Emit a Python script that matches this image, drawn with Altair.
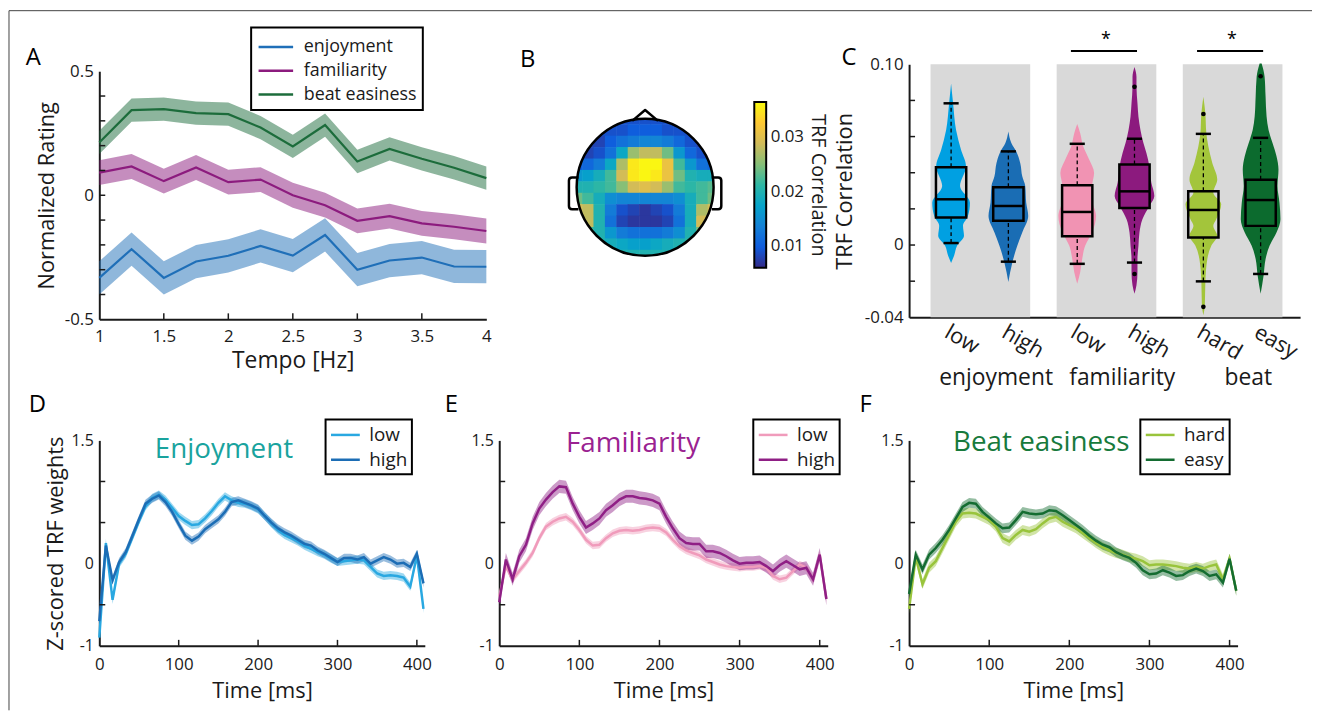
import altair as alt
import pandas as pd

FONT = "Open Sans"
INK = "#1a1a1a"

# ------------------------------------------------------------------ panel A data
tempo_hz = [1.0, 1.25, 1.5, 1.75, 2.0, 2.25, 2.5, 2.75, 3.0, 3.25, 3.5, 3.75, 4.0]
rating_enjoyment = [-0.333, -0.217, -0.333, -0.267, -0.244, -0.204, -0.243, -0.160, -0.300, -0.263, -0.251, -0.287, -0.288]
rating_familiarity = [0.091, 0.116, 0.057, 0.112, 0.053, 0.063, 0.000, -0.040, -0.103, -0.084, -0.113, -0.127, -0.144]
rating_beat = [0.213, 0.343, 0.347, 0.331, 0.327, 0.273, 0.197, 0.283, 0.136, 0.187, 0.147, 0.111, 0.069]
rating_sem = [0.067, 0.050, 0.047]
rating_names = ["enjoyment", "familiarity", "beat easiness"]
rating_colors = ["#1f6fb8", "#8c1b7e", "#1c6c3b"]
tempo_ticks = [1, 1.5, 2, 2.5, 3, 3.5, 4]
rating_ticks = [-0.4, -0.3, -0.2, -0.1, 0, 0.1, 0.2, 0.3, 0.4]

# ------------------------------------------------------------------ panel B data
topo_u = [-1.0, -0.833, -0.667, -0.5, -0.333, -0.167, 0.0, 0.167, 0.333, 0.5, 0.667, 0.833, 1.0]
topo_v = [1.0, 0.833, 0.667, 0.5, 0.333, 0.167, 0.0, -0.167, -0.333, -0.5, -0.667, -0.833, -1.0]
topo_values = [
    [0.009, 0.009, 0.009, 0.009, 0.009, 0.009, 0.009, 0.009, 0.009, 0.009, 0.009, 0.009, 0.009],
    [0.009, 0.009, 0.009, 0.009, 0.009, 0.010, 0.010, 0.010, 0.009, 0.009, 0.009, 0.009, 0.009],
    [0.008, 0.008, 0.008, 0.010, 0.012, 0.013, 0.014, 0.014, 0.013, 0.011, 0.009, 0.008, 0.008],
    [0.008, 0.008, 0.009, 0.012, 0.018, 0.026, 0.028, 0.028, 0.024, 0.016, 0.011, 0.009, 0.009],
    [0.010, 0.011, 0.013, 0.018, 0.027, 0.035, 0.036, 0.036, 0.031, 0.022, 0.016, 0.012, 0.011],
    [0.016, 0.017, 0.019, 0.022, 0.029, 0.035, 0.036, 0.035, 0.031, 0.024, 0.020, 0.019, 0.019],
    [0.020, 0.020, 0.021, 0.022, 0.025, 0.029, 0.030, 0.029, 0.026, 0.022, 0.021, 0.022, 0.023],
    [0.024, 0.022, 0.019, 0.015, 0.014, 0.014, 0.014, 0.014, 0.014, 0.015, 0.019, 0.022, 0.024],
    [0.029, 0.028, 0.020, 0.013, 0.009, 0.008, 0.007, 0.008, 0.009, 0.013, 0.019, 0.027, 0.029],
    [0.029, 0.028, 0.020, 0.012, 0.008, 0.007, 0.007, 0.007, 0.008, 0.012, 0.019, 0.029, 0.030],
    [0.024, 0.022, 0.020, 0.016, 0.013, 0.012, 0.012, 0.012, 0.013, 0.015, 0.020, 0.024, 0.025],
    [0.020, 0.020, 0.020, 0.019, 0.018, 0.017, 0.017, 0.018, 0.019, 0.020, 0.021, 0.021, 0.021],
    [0.020, 0.020, 0.020, 0.020, 0.020, 0.020, 0.020, 0.020, 0.020, 0.020, 0.020, 0.020, 0.020],
]
cbar_limits = [0.006, 0.0364]
cbar_ticks = [0.01, 0.02, 0.03]
parula = ["#352a87", "#0f5cdd", "#1481d6", "#06a4ca", "#2eb7a4",
          "#87bf77", "#d1bb59", "#fec832", "#f9fb0e"]

# ------------------------------------------------------------------ panel C data
group_names = ["enjoyment", "familiarity", "beat"]
cond_names = ["low", "high", "low", "high", "hard", "easy"]
violin_colors = ["#00a0e2", "#1a6db4", "#f193b3", "#8c1a7e", "#a3c53b", "#0c6b2e"]
vio_enj_low = [[0.0894, 0], [0.0784, 2], [0.0637, 5], [0.0527, 10], [0.0436, 15], [0.0326, 9],
               [0.0234, 19], [0.0160, 17], [0.0106, 12], [0.0051, 13], [-0.0004, 6],
               [-0.0059, 3], [-0.0099, 0]]
vio_enj_high = [[0.0628, 0], [0.0565, 3], [0.0517, 8], [0.0453, 12], [0.0380, 14], [0.0326, 17],
                [0.0234, 18], [0.0160, 20], [0.0069, 14], [-0.0004, 9], [-0.0096, 4], [-0.0205, 0]]
vio_fam_low = [[0.0670, 0], [0.0619, 3], [0.0546, 6], [0.0473, 12], [0.0399, 17], [0.0326, 15],
               [0.0253, 15], [0.0160, 19], [0.0069, 15], [-0.0004, 8], [-0.0077, 5],
               [-0.0150, 3], [-0.0214, 0]]
vio_fam_high = [[0.0985, 0], [0.0930, 2], [0.0875, 2], [0.0784, 3], [0.0710, 4], [0.0637, 6],
                [0.0564, 9], [0.0509, 12], [0.0436, 15], [0.0344, 17], [0.0271, 20],
                [0.0216, 15], [0.0143, 8], [0.0069, 5], [-0.0004, 4], [-0.0077, 3],
                [-0.0150, 3], [-0.0223, 2], [-0.0270, 0]]
vio_beat_hard = [[0.0820, 0], [0.0729, 2], [0.0619, 3], [0.0546, 5], [0.0454, 9], [0.0363, 14],
                 [0.0290, 10], [0.0225, 18], [0.0143, 13], [0.0106, 10], [0.0051, 14],
                 [-0.0004, 8], [-0.0077, 4], [-0.0205, 2], [-0.0333, 1.5], [-0.0388, 0]]
vio_beat_easy = [[0.1004, 1], [0.0931, 4], [0.0822, 5], [0.0711, 6], [0.0637, 8], [0.0564, 12],
                 [0.0491, 16], [0.0418, 18], [0.0326, 17], [0.0234, 19], [0.0143, 20],
                 [0.0069, 16], [-0.0004, 9], [-0.0077, 5], [-0.0169, 3], [-0.0270, 0]]
box_q1 = [0.0152, 0.0134, 0.0048, 0.0205, 0.0042, 0.0106]
box_med = [0.0253, 0.0216, 0.0183, 0.0297, 0.0194, 0.0249]
box_q3 = [0.0430, 0.0320, 0.0331, 0.0445, 0.0298, 0.0361]
whisk_lo = [0.0011, -0.0092, -0.0104, -0.0097, -0.0201, -0.0160]
whisk_hi = [0.0784, 0.0518, 0.0560, 0.0588, 0.0615, 0.0593]
outlier_idx = [3, 3, 4, 4, 5]
outlier_val = [0.0875, -0.0160, 0.0725, -0.0342, 0.0934]
sig_pairs = [[2, 3], [4, 5]]
sig_level = 0.1073
corr_ticks = [-0.02, 0, 0.02, 0.04, 0.06, 0.08]

# ------------------------------------------------------------------ panels D-F data
time_ms = [0, 8.3, 16.7, 25, 33.3, 41.7, 50, 58.3, 66.7, 75, 83.3, 91.7, 100, 108.3, 116.7,
           125, 133.3, 141.7, 150, 158.3, 166.7, 175, 183.3, 191.7, 200, 208.3, 216.7, 225,
           233.3, 241.7, 250, 258.3, 266.7, 275, 283.3, 291.7, 300, 308.3, 316.7, 325, 333.3,
           341.7, 350, 358.3, 366.7, 375, 383.3, 391.7, 400, 408.3]
enj_low = [-0.90, 0.25, -0.44, 0.00, 0.12, 0.32, 0.52, 0.70, 0.80, 0.84, 0.78, 0.68, 0.58, 0.52,
           0.47, 0.48, 0.55, 0.64, 0.74, 0.82, 0.77, 0.74, 0.73, 0.70, 0.66, 0.58, 0.49, 0.41,
           0.35, 0.31, 0.27, 0.22, 0.18, 0.14, 0.11, 0.06, 0.02, 0.03, 0.04, 0.05, 0.04, -0.04,
           -0.12, -0.15, -0.14, -0.15, -0.17, -0.28, 0.10, -0.55]
enj_high = [-0.70, 0.22, -0.20, 0.02, 0.14, 0.34, 0.54, 0.73, 0.79, 0.83, 0.75, 0.63, 0.48, 0.34,
            0.28, 0.33, 0.42, 0.48, 0.54, 0.63, 0.75, 0.77, 0.74, 0.71, 0.67, 0.58, 0.50, 0.43,
            0.38, 0.34, 0.29, 0.24, 0.22, 0.16, 0.12, 0.07, 0.02, 0.07, 0.07, 0.05, 0.08, 0.00,
            0.04, 0.08, 0.05, 0.00, 0.01, -0.04, 0.12, -0.24]
fam_low = [-0.40, -0.03, -0.19, -0.09, 0.01, 0.13, 0.31, 0.45, 0.51, 0.55, 0.57, 0.51, 0.41, 0.29,
           0.22, 0.23, 0.31, 0.37, 0.40, 0.41, 0.40, 0.41, 0.43, 0.44, 0.43, 0.38, 0.29, 0.21,
           0.16, 0.13, 0.10, 0.05, 0.02, -0.01, -0.03, -0.04, -0.05, -0.04, -0.04, -0.03, -0.05,
           -0.15, -0.19, -0.17, -0.09, -0.01, -0.05, -0.19, 0.11, -0.43]
fam_high = [-0.47, 0.05, -0.19, 0.09, 0.23, 0.49, 0.67, 0.78, 0.87, 0.94, 0.93, 0.73, 0.57, 0.44,
            0.49, 0.55, 0.65, 0.71, 0.78, 0.82, 0.82, 0.80, 0.79, 0.77, 0.73, 0.57, 0.43, 0.31,
            0.25, 0.24, 0.24, 0.15, 0.15, 0.13, 0.09, 0.04, 0.00, 0.01, 0.01, 0.02, -0.03, -0.09,
            -0.02, 0.03, -0.02, -0.07, -0.05, -0.19, 0.11, -0.43]
beat_hard = [-0.55, 0.08, -0.25, -0.05, 0.03, 0.19, 0.35, 0.51, 0.61, 0.62, 0.61, 0.57, 0.53, 0.45,
             0.31, 0.27, 0.35, 0.41, 0.39, 0.42, 0.49, 0.55, 0.57, 0.51, 0.47, 0.43, 0.37, 0.31,
             0.25, 0.20, 0.16, 0.13, 0.11, 0.08, 0.06, 0.03, -0.02, -0.01, -0.01, -0.02, -0.03,
             -0.05, -0.06, -0.04, -0.06, -0.03, -0.01, -0.19, 0.06, -0.33]
beat_easy = [-0.37, 0.11, -0.07, 0.11, 0.19, 0.29, 0.41, 0.55, 0.69, 0.74, 0.73, 0.63, 0.56, 0.49,
             0.43, 0.44, 0.53, 0.63, 0.61, 0.60, 0.61, 0.65, 0.64, 0.59, 0.53, 0.47, 0.41, 0.34,
             0.28, 0.23, 0.20, 0.14, 0.10, 0.07, 0.01, -0.08, -0.13, -0.12, -0.08, -0.11, -0.15,
             -0.14, -0.09, -0.06, -0.09, -0.15, -0.13, -0.23, 0.06, -0.33]
trf_sem = {"enj": [0.05, 0.05], "fam": [0.045, 0.08], "beat": [0.06, 0.06]}
time_ticks = [0, 100, 200, 300, 400]
trf_ticks = [-0.5, 0.5, 1.0]

TICK = 6  # inward tick length in px
LEG_LINE = "M-1,0 L1.9,0"  # long horizontal legend line (extends to the right of its cell)


# ------------------------------------------------------------------ helpers
def yticks(values, ys):
    return alt.Chart(pd.DataFrame({"v": values})).mark_rule(color=INK, strokeWidth=1.5).encode(
        y=alt.Y("v:Q", scale=ys, axis=None), x=alt.value(0), x2=alt.value(TICK))


def xticks(values, xs, h):
    return alt.Chart(pd.DataFrame({"v": values})).mark_rule(color=INK, strokeWidth=1.5).encode(
        x=alt.X("v:Q", scale=xs, axis=None), y=alt.value(h), y2=alt.value(h - TICK))


def panel_letter(text, px, py):
    return alt.Chart(pd.DataFrame({"t": [text]})).mark_text(
        fontSize=24, font=FONT, color="black", align="left", baseline="alphabetic").encode(
        x=alt.value(px), y=alt.value(py), text="t:N")


# ------------------------------------------------------------------ panel A
A_W, A_H, A_TOP = 390, 257, 7
XA = alt.Scale(domain=[1, 4], nice=False, zero=False)
YA = alt.Scale(domain=[-0.5, 0.5], range=[A_H, A_TOP], nice=False, zero=False)
rowsA = []
for name, col, vals, sem in zip(rating_names, rating_colors,
                                [rating_enjoyment, rating_familiarity, rating_beat], rating_sem):
    for t, v in zip(tempo_hz, vals):
        rowsA.append({"tempo": t, "series": name, "band": col, "mean": v, "lo": v - sem, "hi": v + sem})
dfA = pd.DataFrame(rowsA)
colA = alt.Scale(domain=rating_names, range=rating_colors)

bandA = alt.Chart(dfA).mark_area(opacity=0.5).encode(
    x=alt.X("tempo:Q", scale=XA, axis=None),
    y=alt.Y("lo:Q", scale=YA, axis=None, stack=None),
    y2="hi:Q",
    fill=alt.Fill("band:N", scale=None),
)
lineA = alt.Chart(dfA).mark_line(strokeWidth=2.2).encode(
    x=alt.X("tempo:Q", scale=XA, axis=alt.Axis(
        values=tempo_ticks, labelExpr="toString(datum.value)", ticks=False, title="Tempo [Hz]",
        labelFontSize=17, titleFontSize=23, labelPadding=9, titlePadding=6)),
    y=alt.Y("mean:Q", scale=YA, axis=alt.Axis(
        values=[-0.5, 0, 0.5],
        labelExpr="datum.value > 0.1 ? '0.5' : (datum.value < -0.1 ? '-0.5' : '0')",
        ticks=False, title="Normalized Rating", labelFontSize=17, titleFontSize=22,
        labelPadding=6, titlePadding=6)),
    color=alt.Color("series:N", scale=colA, legend=alt.Legend(
        orient="none", legendX=153, legendY=-37, title=None, labelFontSize=18,
        symbolType=LEG_LINE, symbolSize=576, symbolStrokeWidth=2.5, rowPadding=1, padding=6,
        labelOffset=20, symbolOpacity=1)),
)
frame_df = pd.DataFrame({"k": [0]})
frame_left = alt.Chart(frame_df).mark_rule(color="#444444", strokeWidth=1).encode(
    x=alt.value(-91), y=alt.value(-54), y2=alt.value(651))
frame_top = alt.Chart(frame_df).mark_rule(color="#444444", strokeWidth=1).encode(
    x=alt.value(-91), x2=alt.value(1222), y=alt.value(-54))
panelA = alt.layer(
    frame_left, frame_top, bandA, lineA,
    yticks(rating_ticks, YA), xticks(tempo_ticks[1:-1], XA, A_H),
    panel_letter("A", -74, 1),
).resolve_axis(x="independent", y="independent").properties(width=A_W, height=A_H)

# ------------------------------------------------------------------ panel B
B_W, B_H = 400, 257
HEAD_CX, HEAD_CY, HEAD_R = 147, 124, 69
XB = alt.Scale(domain=[-1, 1], range=[HEAD_CX - HEAD_R, HEAD_CX + HEAD_R], nice=False, zero=False)
YB = alt.Scale(domain=[-1, 1], range=[HEAD_CY + HEAD_R, HEAD_CY - HEAD_R], nice=False, zero=False)
half = 1 / 12 + 0.004
rowsB = []
for i, v in enumerate(topo_v):
    for j, u in enumerate(topo_u):
        rowsB.append({"u0": u - half, "u1": u + half, "v0": v - half, "v1": v + half,
                      "r": topo_values[i][j]})
dfB = pd.DataFrame(rowsB)
span = cbar_limits[1] - cbar_limits[0]
parula_domain = [cbar_limits[0] + k * span / (len(parula) - 1) for k in range(len(parula))]

cells = alt.Chart(dfB).mark_rect().encode(
    x=alt.X("u0:Q", scale=XB, axis=None), x2="u1:Q",
    y=alt.Y("v0:Q", scale=YB, axis=None), y2="v1:Q",
    color=alt.Color("r:Q", scale=alt.Scale(domain=parula_domain, range=parula, interpolate="rgb"),
                    legend=None),
)
centre = pd.DataFrame({"u": [0.0], "v": [0.0]})
RING_W = 46
ring = alt.Chart(centre).mark_point(shape="circle", filled=False, stroke="white", strokeWidth=RING_W,
                                    size=(2 * (HEAD_R + RING_W / 2)) ** 2, opacity=1).encode(
    x=alt.X("u:Q", scale=XB, axis=None), y=alt.Y("v:Q", scale=YB, axis=None))
outline = alt.Chart(centre).mark_point(shape="circle", filled=False, stroke="black", strokeWidth=2.5,
                                       size=(2 * HEAD_R) ** 2, opacity=1).encode(
    x=alt.X("u:Q", scale=XB, axis=None), y=alt.Y("v:Q", scale=YB, axis=None))
nose_df = pd.DataFrame({"u": [0.0], "v": [1.05]})
nose = alt.Chart(nose_df).mark_point(shape="M-1,0.42 L0,-0.42 L1,0.42", filled=False, stroke="black",
                                     strokeWidth=2.5, size=676, opacity=1, strokeJoin="round").encode(
    x=alt.X("u:Q", scale=XB, axis=None), y=alt.Y("v:Q", scale=YB, axis=None))
ear_l_df = pd.DataFrame({"u": [-1.043], "v": [-0.087]})
ear_r_df = pd.DataFrame({"u": [1.043], "v": [-0.087]})
ear_l = alt.Chart(ear_l_df).mark_point(
    shape="M0.3,-1 L-0.1,-1 Q-0.3,-1 -0.3,-0.8 L-0.3,0.8 Q-0.3,1 -0.1,1 L0.3,1",
    filled=False, stroke="black", strokeWidth=2.5, size=1024, opacity=1).encode(
    x=alt.X("u:Q", scale=XB, axis=None), y=alt.Y("v:Q", scale=YB, axis=None))
ear_r = alt.Chart(ear_r_df).mark_point(
    shape="M-0.3,-1 L0.1,-1 Q0.3,-1 0.3,-0.8 L0.3,0.8 Q0.3,1 0.1,1 L-0.3,1",
    filled=False, stroke="black", strokeWidth=2.5, size=1024, opacity=1).encode(
    x=alt.X("u:Q", scale=XB, axis=None), y=alt.Y("v:Q", scale=YB, axis=None))
scalp = alt.layer(cells, ring, outline, nose, ear_l, ear_r, panel_letter("B", 21, 3))

XCB = alt.Scale(domain=[0, 1], range=[257, 269], nice=False, zero=False)
YCB = alt.Scale(domain=cbar_limits, range=[205, 38], nice=False, zero=False)
cbdf = pd.DataFrame({"c0": [0.0], "c1": [1.0], "z0": [cbar_limits[0]], "z1": [cbar_limits[1]]})
grad = alt.Gradient(gradient="linear",
                    stops=[alt.GradientStop(color=c, offset=k / (len(parula) - 1)) for k, c in enumerate(parula)],
                    x1=0, x2=0, y1=1, y2=0)
cb_fill = alt.Chart(cbdf).mark_rect(color=grad).encode(
    x=alt.X("c0:Q", scale=XCB, axis=None), x2="c1:Q",
    y=alt.Y("z0:Q", scale=YCB, axis=alt.Axis(
        orient="right", offset=-(B_W - 269), values=cbar_ticks, format=".2f", ticks=False,
        domain=False, labelFontSize=17, labelPadding=4, title="TRF Correlation",
        titleFontSize=20, titlePadding=4)),
    y2="z1:Q")
cb_frame = alt.Chart(cbdf).mark_rect(fill="transparent", stroke="black", strokeWidth=2).encode(
    x=alt.X("c0:Q", scale=XCB, axis=None), x2="c1:Q",
    y=alt.Y("z0:Q", scale=YCB, axis=None), y2="z1:Q")
cbar = alt.layer(cb_fill, cb_frame).resolve_axis(x="independent", y="independent")
panelB = alt.layer(scalp, cbar).resolve_scale(x="independent", y="independent").properties(
    width=B_W, height=B_H)

# ------------------------------------------------------------------ panel C
C_W, C_H = 394, 255
XC = alt.Scale(domain=[-0.56, 2.54], nice=False, zero=False)
YC = alt.Scale(domain=[-0.04, 0.10], nice=False, zero=False)
PAIR = 0.227
BOX_HALF = 0.12
CAP_HALF = 0.06
VIO_PX = 1 / 127.1
pos = [g + s * PAIR for g in range(3) for s in (-1, 1)]
vids = ["v%d" % i for i in range(6)]

dfBand = pd.DataFrame({"x1": [g - 0.39 for g in range(3)], "x2": [g + 0.40 for g in range(3)],
                       "y1": [-0.04] * 3, "y2": [0.10] * 3})
label_expr = " : ".join("datum.value < %.3f ? '%s'" % (p + 0.1, n)
                        for p, n in zip(pos[:-1], cond_names[:-1])) + " : '%s'" % cond_names[-1]
bandsC = alt.Chart(dfBand).mark_rect(color="#d9d9d9").encode(
    x=alt.X("x1:Q", scale=XC, axis=alt.Axis(
        values=pos, labelExpr=label_expr, labelAngle=30, labelAlign="left", labelBaseline="top",
        labelFontSize=22, labelPadding=4, ticks=False, title=None)),
    x2="x2:Q",
    y=alt.Y("y1:Q", scale=YC, axis=alt.Axis(
        values=[-0.04, 0, 0.1],
        labelExpr="datum.value > 0.05 ? '0.10' : (datum.value < -0.01 ? '-0.04' : '0')",
        ticks=False, title="TRF Correlation", labelFontSize=17, titleFontSize=22,
        labelPadding=6, titlePadding=8)),
    y2="y2:Q")

rowsV = []
for i, prof in enumerate([vio_enj_low, vio_enj_high, vio_fam_low, vio_fam_high, vio_beat_hard, vio_beat_easy]):
    for y, w in sorted(prof):
        rowsV.append({"vid": vids[i], "y": y, "lo": pos[i] - w * VIO_PX, "hi": pos[i] + w * VIO_PX})
dfV = pd.DataFrame(rowsV)
violinsC = alt.Chart(dfV).mark_area(orient="horizontal", interpolate="monotone", opacity=1).encode(
    y=alt.Y("y:Q", scale=YC, axis=None),
    x=alt.X("lo:Q", scale=XC, axis=None), x2="hi:Q",
    color=alt.Color("vid:N", scale=alt.Scale(domain=vids, range=violin_colors), legend=None))

rowsW = []
for i in range(6):
    rowsW.append({"x": pos[i], "a": whisk_lo[i], "b": box_q1[i]})
    rowsW.append({"x": pos[i], "a": box_q3[i], "b": whisk_hi[i]})
whiskC = alt.Chart(pd.DataFrame(rowsW)).mark_rule(color="black", strokeWidth=1.3, strokeDash=[4, 3]).encode(
    x=alt.X("x:Q", scale=XC, axis=None), y=alt.Y("a:Q", scale=YC, axis=None), y2="b:Q")

dfBox = pd.DataFrame({"lo": [p - BOX_HALF for p in pos], "hi": [p + BOX_HALF for p in pos],
                      "q1": box_q1, "q3": box_q3, "med": box_med})
boxC = alt.Chart(dfBox).mark_rect(fill="transparent", stroke="black", strokeWidth=2.5).encode(
    x=alt.X("lo:Q", scale=XC, axis=None), x2="hi:Q",
    y=alt.Y("q1:Q", scale=YC, axis=None), y2="q3:Q")
medC = alt.Chart(dfBox).mark_rule(color="black", strokeWidth=2.5).encode(
    x=alt.X("lo:Q", scale=XC, axis=None), x2="hi:Q", y=alt.Y("med:Q", scale=YC, axis=None))

rowsCap = []
for i in range(6):
    for yv in (whisk_lo[i], whisk_hi[i]):
        rowsCap.append({"lo": pos[i] - CAP_HALF, "hi": pos[i] + CAP_HALF, "y": yv})
capC = alt.Chart(pd.DataFrame(rowsCap)).mark_rule(color="black", strokeWidth=2.5).encode(
    x=alt.X("lo:Q", scale=XC, axis=None), x2="hi:Q", y=alt.Y("y:Q", scale=YC, axis=None))

dfOut = pd.DataFrame({"x": [pos[i] for i in outlier_idx], "y": outlier_val})
outC = alt.Chart(dfOut).mark_point(filled=True, color="black", size=22, opacity=1).encode(
    x=alt.X("x:Q", scale=XC, axis=None), y=alt.Y("y:Q", scale=YC, axis=None))

dfSig = pd.DataFrame({"lo": [pos[a] - 0.05 for a, b in sig_pairs], "hi": [pos[b] + 0.02 for a, b in sig_pairs],
                      "mid": [(pos[a] + pos[b]) / 2 for a, b in sig_pairs], "y": [sig_level] * 2,
                      "ys": [sig_level + 0.006] * 2, "t": ["*"] * 2})
sigC = alt.Chart(dfSig).mark_rule(color="black", strokeWidth=2).encode(
    x=alt.X("lo:Q", scale=XC, axis=None), x2="hi:Q", y=alt.Y("y:Q", scale=YC, axis=None))
starC = alt.Chart(dfSig).mark_text(fontSize=18, color="black", font=FONT).encode(
    x=alt.X("mid:Q", scale=XC, axis=None), y=alt.Y("ys:Q", scale=YC, axis=None), text="t:N")

dfGrp = pd.DataFrame({"x": [g + 0.13 for g in range(3)], "y": [-0.0736] * 3, "t": group_names})
grpC = alt.Chart(dfGrp).mark_text(fontSize=23, color=INK, font=FONT).encode(
    x=alt.X("x:Q", scale=XC, axis=None), y=alt.Y("y:Q", scale=YC, axis=None), text="t:N")
panelC = alt.layer(bandsC, violinsC, whiskC, boxC, medC, capC, outC, sigC, starC, grpC,
                   yticks(corr_ticks, YC), panel_letter("C", -68, 1)).resolve_axis(
    x="independent", y="independent").properties(width=C_W, height=C_H)


# ------------------------------------------------------------------ panels D-F
T_H = 207
XT = alt.Scale(domain=[0, 410], nice=False, zero=False)
YT = alt.Scale(domain=[-1, 1.5], nice=False, zero=False)


def trf_panel(cond, series, sems, colors, name, name_color, name_pos, width, legend_x,
              ytitle, let, let_x):
    rows = []
    for cname, col, vals, sem in zip(cond, colors, series, sems):
        for t, v in zip(time_ms, vals):
            rows.append({"t": t, "cond": cname, "band": col, "m": v, "lo": v - sem, "hi": v + sem})
    df = pd.DataFrame(rows)
    cs = alt.Scale(domain=cond, range=colors)
    band = alt.Chart(df).mark_area(opacity=0.45).encode(
        x=alt.X("t:Q", scale=XT, axis=None),
        y=alt.Y("lo:Q", scale=YT, axis=None, stack=None), y2="hi:Q",
        fill=alt.Fill("band:N", scale=None))
    if ytitle:
        yaxis = alt.Axis(values=[-1, 0, 1.5], labelExpr="toString(datum.value)", ticks=False,
                         labelFontSize=16, titleFontSize=22, labelPadding=6, titlePadding=4,
                         title=ytitle)
    else:
        yaxis = alt.Axis(values=[-1, 0, 1.5], labelExpr="toString(datum.value)", ticks=False,
                         labelFontSize=16, labelPadding=6, title=None)
    line = alt.Chart(df).mark_line(strokeWidth=2.5).encode(
        x=alt.X("t:Q", scale=XT, axis=alt.Axis(
            values=time_ticks, ticks=False, title="Time [ms]", labelFontSize=17,
            titleFontSize=22, labelPadding=11, titlePadding=8)),
        y=alt.Y("m:Q", scale=YT, axis=yaxis),
        color=alt.Color("cond:N", scale=cs, legend=alt.Legend(
            orient="none", legendX=legend_x, legendY=-21, title=None, labelFontSize=19,
            symbolType=LEG_LINE, symbolSize=400, symbolStrokeWidth=2.5, rowPadding=3,
            padding=4, labelOffset=17, symbolOpacity=1)))
    tdf = pd.DataFrame({"x": [name_pos[0]], "y": [name_pos[1]], "s": [name]})
    title_txt = alt.Chart(tdf).mark_text(fontSize=28, color=name_color, font=FONT).encode(
        x=alt.X("x:Q", scale=XT, axis=None), y=alt.Y("y:Q", scale=YT, axis=None), text="s:N")
    return alt.layer(band, line, title_txt, yticks(trf_ticks, YT), xticks(time_ticks[1:], XT, T_H),
                     panel_letter(let, let_x, -29)).resolve_axis(
        x="independent", y="independent").properties(width=width, height=T_H)


panelD = trf_panel(["low", "high"], [enj_low, enj_high], trf_sem["enj"], ["#29a8e1", "#1c6db5"],
                   "Enjoyment", "#19a39e", [157, 1.38], 328, 228, "Z-scored TRF weights", "D", -71)
panelE = trf_panel(["low", "high"], [fam_low, fam_high], trf_sem["fam"], ["#f09bbb", "#8f1f85"],
                   "Familiarity", "#9a2291", [167, 1.45], 331, 256, "", "E", -55)
panelF = trf_panel(["hard", "easy"], [beat_hard, beat_easy], trf_sem["beat"], ["#99c43c", "#146c31"],
                   "Beat easiness", "#177a3c", [165, 1.47], 331, 233, "", "F", -50)

chart = alt.concat(panelA, panelB, panelC, panelD, panelE, panelF, columns=3,
                   spacing={"row": 122, "column": 13}, bounds="flush")
chart = chart.resolve_scale(color="independent")
chart = chart.properties(padding={"left": 0, "top": -6, "right": 0, "bottom": 0}, background="white")
chart = chart.configure(font=FONT).configure_view(stroke=None).configure_axis(
    domainColor=INK, domainWidth=2, tickColor=INK, tickWidth=1.5, labelColor=INK, titleColor=INK,
    labelFont=FONT, titleFont=FONT, titleFontWeight="normal", grid=False, labelFlush=False,
    labelOverlap=False).configure_legend(
    strokeColor="black", strokeWidth=2, fillColor="white", labelFont=FONT, labelColor=INK)

chart.save("out.html", embed_options={"renderer": "svg", "actions": False})
